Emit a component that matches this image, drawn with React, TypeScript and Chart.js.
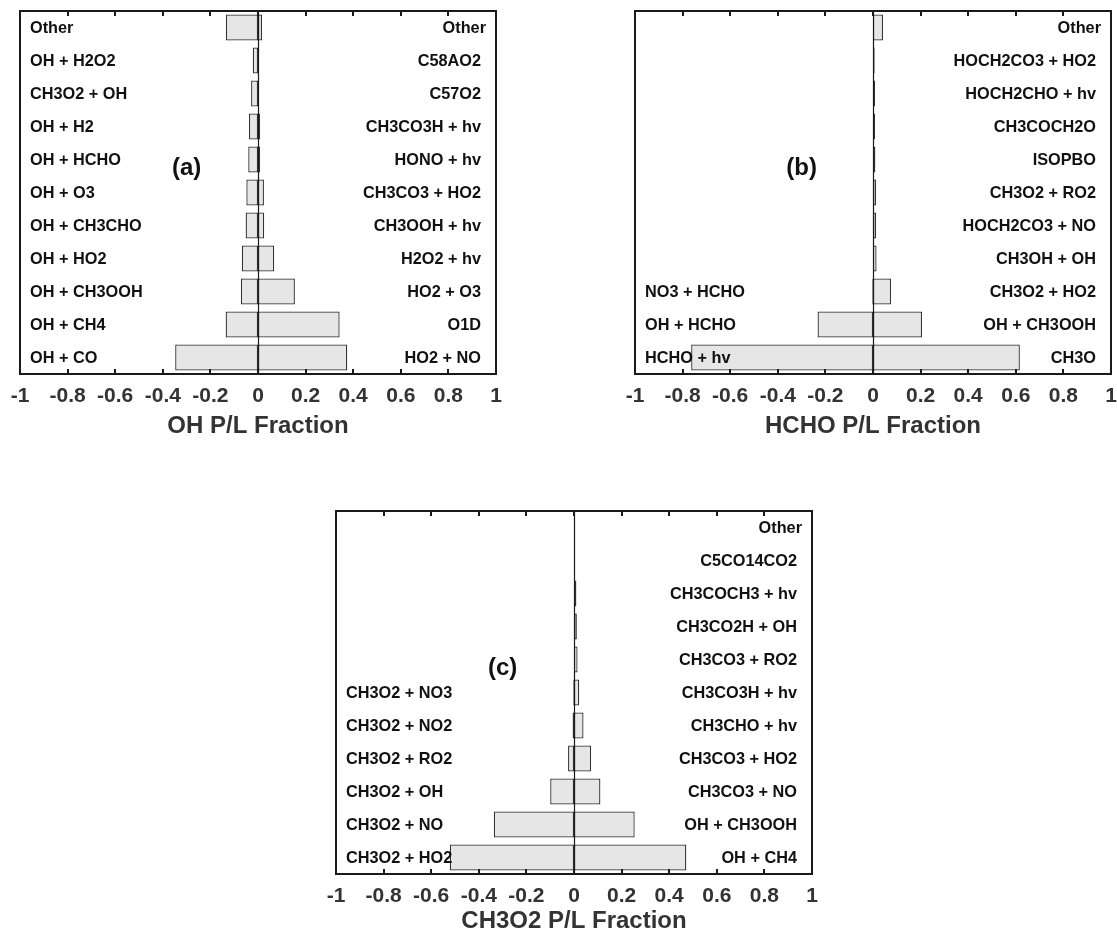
import React, { useEffect, useRef } from 'react';
import { Chart, registerables } from 'chart.js';

Chart.register(...registerables);

const FONT = "'Liberation Sans', Arial, Helvetica, sans-serif";

// ---------- Panel (a): OH ----------
const lossLabelsA = ['Other', 'OH + H2O2', 'CH3O2 + OH', 'OH + H2', 'OH + HCHO', 'OH + O3', 'OH + CH3CHO', 'OH + HO2', 'OH + CH3OOH', 'OH + CH4', 'OH + CO'];
const prodLabelsA = ['Other', 'C58AO2', 'C57O2', 'CH3CO3H + hv', 'HONO + hv', 'CH3CO3 + HO2', 'CH3OOH + hv', 'H2O2 + hv', 'HO2 + O3', 'O1D', 'HO2 + NO'];
const lossA = [-0.135, -0.022, -0.029, -0.038, -0.041, -0.049, -0.052, -0.068, -0.072, -0.136, -0.348];
const prodA = [0.017, 0.003, 0.003, 0.009, 0.009, 0.025, 0.026, 0.068, 0.155, 0.343, 0.375];

// ---------- Panel (b): HCHO ----------
const lossLabelsB = ['', '', '', '', '', '', '', '', 'NO3 + HCHO', 'OH + HCHO', 'HCHO + hv'];
const prodLabelsB = ['Other', 'HOCH2CO3 + HO2', 'HOCH2CHO + hv', 'CH3COCH2O', 'ISOPBO', 'CH3O2 + RO2', 'HOCH2CO3 + NO', 'CH3OH + OH', 'CH3O2 + HO2', 'OH + CH3OOH', 'CH3O'];
const lossB = [null, null, null, null, null, null, null, null, -0.003, -0.233, -0.764];
const prodB = [0.042, 0.007, 0.009, 0.009, 0.010, 0.013, 0.013, 0.015, 0.076, 0.206, 0.617];

// ---------- Panel (c): CH3O2 ----------
const lossLabelsC = ['', '', '', '', '', 'CH3O2 + NO3', 'CH3O2 + NO2', 'CH3O2 + RO2', 'CH3O2 + OH', 'CH3O2 + NO', 'CH3O2 + HO2'];
const prodLabelsC = ['Other', 'C5CO14CO2', 'CH3COCH3 + hv', 'CH3CO2H + OH', 'CH3CO3 + RO2', 'CH3CO3H + hv', 'CH3CHO + hv', 'CH3CO3 + HO2', 'CH3CO3 + NO', 'OH + CH3OOH', 'OH + CH4'];
const lossC = [null, null, null, null, null, -0.003, -0.006, -0.025, -0.100, -0.337, -0.522];
const prodC = [0.004, 0.003, 0.010, 0.012, 0.015, 0.022, 0.040, 0.072, 0.111, 0.255, 0.472];

const xTickMin = -1;
const xTickMax = 1;
const xTickStep = 0.2;

type PanelSpec = {
  letter: string;
  title: string;
  lossLabels: string[];
  prodLabels: string[];
  loss: (number | null)[];
  prod: (number | null)[];
  cx: number;
  cy: number;
  cw: number;
  pl: number;
  pr: number;
  pt: number;
  pb: number;
  titleCenter: number;
};

const AXIS_H = 90;
const PAD_BOTTOM = 16;

const panels: PanelSpec[] = [
  {
    letter: '(a)', title: 'OH P/L Fraction',
    lossLabels: lossLabelsA, prodLabels: prodLabelsA, loss: lossA, prod: prodA,
    cx: 0, cy: 0, cw: 560, pl: 20, pr: 496, pt: 11, pb: 374, titleCenter: 426.5,
  },
  {
    letter: '(b)', title: 'HCHO P/L Fraction',
    lossLabels: lossLabelsB, prodLabels: prodLabelsB, loss: lossB, prod: prodB,
    cx: 580, cy: 0, cw: 580, pl: 635, pr: 1111, pt: 11, pb: 374, titleCenter: 426.5,
  },
  {
    letter: '(c)', title: 'CH3O2 P/L Fraction',
    lossLabels: lossLabelsC, prodLabels: prodLabelsC, loss: lossC, prod: prodC,
    cx: 280, cy: 480, cw: 600, pl: 336, pr: 812, pt: 511, pb: 874, titleCenter: 921.5,
  },
];

function fmtTick(v: number | string): string {
  const n = Math.round(Number(v) * 10) / 10;
  if (Math.abs(n) < 1e-9) return '0';
  return String(n);
}

function Panel({ spec }: { spec: PanelSpec }) {
  const ref = useRef<HTMLCanvasElement | null>(null);
  const ch = spec.pb - spec.cy + AXIS_H + PAD_BOTTOM;

  useEffect(() => {
    const canvas = ref.current;
    if (!canvas) return;
    const titleLine = 24 * 1.2;
    const titlePad = spec.pb + AXIS_H - spec.titleCenter - titleLine / 2;

    const decor = {
      id: 'decor' + spec.letter,
      afterDatasetsDraw(chart: any) {
        const { ctx, chartArea } = chart;
        const { left, right, top, bottom } = chartArea;
        const xs = chart.scales.x;
        const ys = chart.scales.y;
        ctx.save();
        const x0 = Math.round(xs.getPixelForValue(0)) + 0.5;
        ctx.strokeStyle = '#1a1a1a';
        ctx.lineWidth = 1.2;
        ctx.beginPath();
        ctx.moveTo(x0, top);
        ctx.lineTo(x0, bottom);
        ctx.stroke();
        ctx.lineWidth = 2;
        ctx.strokeStyle = '#1a1a1a';
        for (const t of xs.ticks) {
          const v = t.value;
          if (v <= xTickMin + 1e-9 || v >= xTickMax - 1e-9) continue;
          const px = Math.round(xs.getPixelForValue(v));
          ctx.beginPath();
          ctx.moveTo(px, top);
          ctx.lineTo(px, top + 5);
          ctx.moveTo(px, bottom);
          ctx.lineTo(px, bottom - 5);
          ctx.stroke();
        }
        ctx.strokeRect(left, top, right - left, bottom - top);
        ctx.font = `bold 16.3px ${FONT}`;
        ctx.fillStyle = '#111';
        ctx.textBaseline = 'middle';
        spec.lossLabels.forEach((lab, i) => {
          if (!lab) return;
          ctx.textAlign = 'left';
          ctx.fillText(lab, left + 10, ys.getPixelForValue(i) + 1);
        });
        spec.prodLabels.forEach((lab, i) => {
          if (!lab) return;
          ctx.textAlign = 'right';
          const inset = lab === 'Other' ? 10 : 15;
          ctx.fillText(lab, right - inset, ys.getPixelForValue(i) + 1);
        });
        ctx.font = `bold 24px ${FONT}`;
        ctx.textAlign = 'center';
        ctx.fillStyle = '#111';
        ctx.fillText(spec.letter, xs.getPixelForValue(-0.3), top + 0.433 * (bottom - top));
        ctx.restore();
      },
    };

    const barStyle = {
      backgroundColor: '#e6e6e6',
      borderColor: '#333333',
      borderWidth: 1.3,
      borderSkipped: false,
      grouped: false,
      barPercentage: 0.79,
      categoryPercentage: 1,
    };

    const chart = new Chart(canvas, {
      type: 'bar',
      data: {
        labels: spec.prodLabels,
        datasets: [
          { label: 'Loss', data: spec.loss as any, ...barStyle } as any,
          { label: 'Production', data: spec.prod as any, ...barStyle } as any,
        ],
      },
      options: {
        animation: false,
        responsive: false,
        indexAxis: 'y',
        layout: {
          padding: {
            left: spec.pl - spec.cx,
            right: spec.cx + spec.cw - spec.pr,
            top: spec.pt - spec.cy,
            bottom: PAD_BOTTOM,
          },
        },
        plugins: {
          legend: { display: false },
          tooltip: { enabled: false },
        },
        scales: {
          x: {
            type: 'linear',
            position: 'bottom',
            min: xTickMin,
            max: xTickMax,
            grid: { display: false, drawTicks: false },
            border: { display: false },
            ticks: {
              stepSize: xTickStep,
              autoSkip: false,
              maxRotation: 0,
              minRotation: 0,
              padding: 10,
              color: '#333',
              font: { family: FONT, size: 21, weight: 'bold' },
              callback: (v: any) => fmtTick(v),
            },
            title: {
              display: true,
              text: spec.title,
              color: '#333',
              font: { family: FONT, size: 24, weight: 'bold' },
              padding: { top: 0, bottom: titlePad },
            },
            afterFit: (s: any) => {
              s.height = AXIS_H;
            },
          } as any,
          y: {
            type: 'category',
            display: false,
            grid: { display: false },
          },
        },
      } as any,
      plugins: [decor],
    });
    return () => chart.destroy();
  }, []);

  return (
    <canvas
      ref={ref}
      width={spec.cw}
      height={ch}
      style={{ position: 'absolute', left: spec.cx, top: spec.cy, width: spec.cw, height: ch }}
    />
  );
}

export default function App() {
  return (
    <div
      style={{
        position: 'absolute',
        left: 0,
        top: 0,
        width: 1117,
        height: 938,
        overflow: 'hidden',
        background: '#fff',
      }}
    >
      {panels.map((p) => (
        <Panel key={p.letter} spec={p} />
      ))}
    </div>
  );
}
